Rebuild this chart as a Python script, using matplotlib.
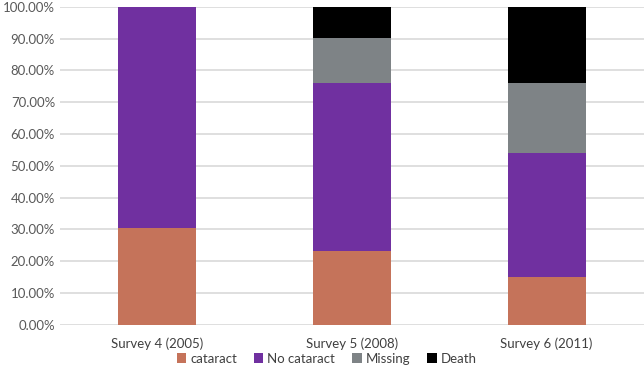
import numpy as np
import matplotlib
matplotlib.use("Agg")
import matplotlib.pyplot as plt
from matplotlib.ticker import PercentFormatter

# Data (percent of each survey)
surveys = ["Survey 4 (2005)", "Survey 5 (2008)", "Survey 6 (2011)"]
cataract = [30.4, 23.2, 15.2]
no_cataract = [69.6, 52.9, 38.9]
missing = [0.0, 14.1, 21.9]
death = [0.0, 9.8, 24.0]

series = [
    ("cataract", cataract, "#C5735A"),
    ("No cataract", no_cataract, "#7030A0"),
    ("Missing", missing, "#7E8386"),
    ("Death", death, "#000000"),
]

plt.rcParams["font.family"] = ["Lato", "DejaVu Sans"]

fig = plt.figure(figsize=(6.44, 3.8), dpi=100)
ax = fig.add_axes([0.093, 0.145, 0.907, 0.837])

x = np.arange(len(surveys))
bottom = np.zeros(len(surveys))
for name, vals, color in series:
    vals = np.array(vals)
    ax.bar(x, vals, width=0.4, bottom=bottom, color=color, label=name, zorder=3)
    bottom += vals

ax.set_xlim(-0.5, 2.5)
ax.set_ylim(0, 100)
ax.set_yticks(np.arange(0, 101, 10))
ax.yaxis.set_major_formatter(PercentFormatter(decimals=2))
ax.set_xticks(x)
ax.set_xticklabels(surveys)
ax.grid(axis="y", color="#D9D9D9", linewidth=1.2, zorder=0)
for s in ax.spines.values():
    s.set_visible(False)
ax.tick_params(length=0, colors="#595959", labelsize=9.5)
ax.tick_params(axis="x", pad=9, labelcolor="#404040")

ax.legend(loc="center", bbox_to_anchor=(0.457, -0.106), ncol=4, frameon=False,
          fontsize=9.5, handlelength=0.7, handleheight=0.7, handletextpad=0.3,
          columnspacing=1.3, labelcolor="#404040")

fig.savefig("out.png", dpi=100)
